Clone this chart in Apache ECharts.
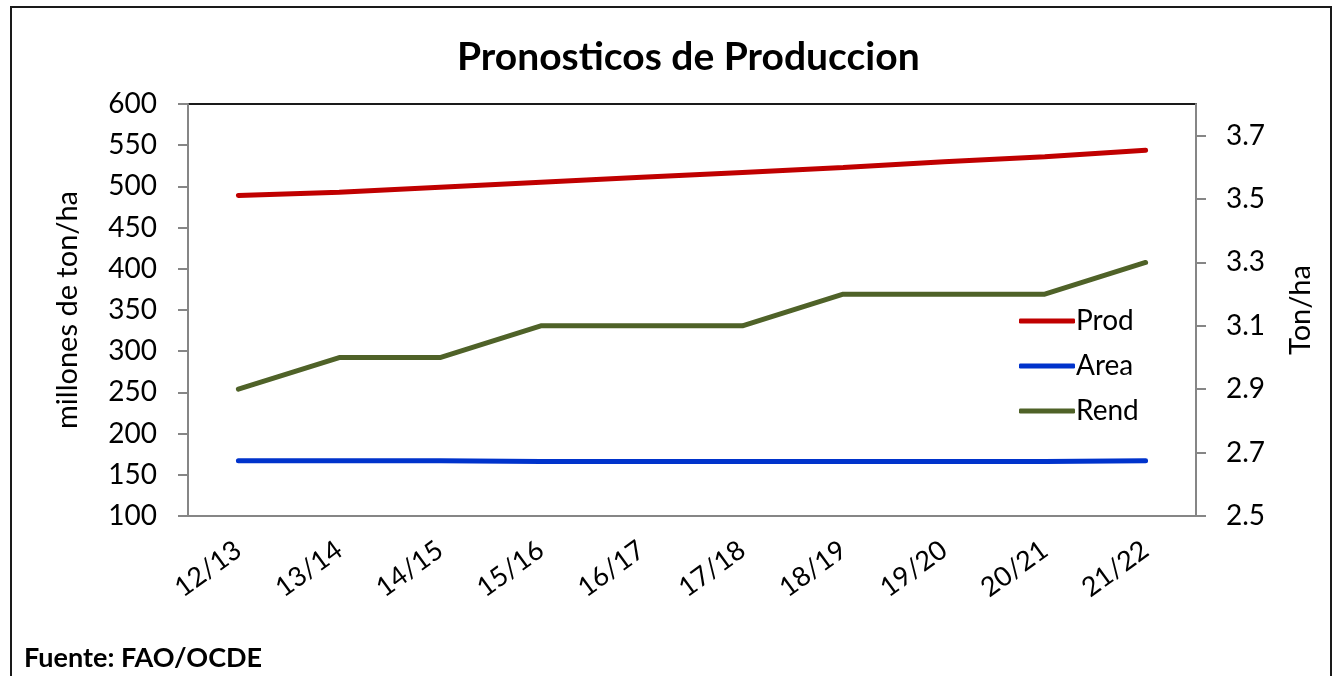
<!DOCTYPE html>
<html>
<head>
<meta charset="utf-8">
<script src="https://cdn.jsdelivr.net/npm/echarts@6/dist/echarts.min.js"></script>
<style>
  html, body { margin: 0; padding: 0; background: #fff; }
  #chart { width: 1340px; height: 676px; }
</style>
</head>
<body>
<div id="chart"></div>
<script>
// campañas
const seasons = ['12/13', '13/14', '14/15', '15/16', '16/17', '17/18', '18/19', '19/20', '20/21', '21/22']
// millones de ton
const prod = [489, 493, 499, 505, 511, 517, 523, 530, 536, 544]
// millones de ha
const area = [167, 167, 167, 166, 166, 166, 166, 166, 166, 167]
// ton/ha (eje derecho)
const rend = [2.9, 3.0, 3.0, 3.1, 3.1, 3.1, 3.2, 3.2, 3.2, 3.3]
const rightTicks = [2.5, 2.7, 2.9, 3.1, 3.3, 3.5, 3.7]

const font = 'Lato, "Open Sans", sans-serif'
const axisGray = '#868686'

const chart = echarts.init(document.getElementById('chart'), null, { renderer: 'canvas' })

chart.setOption({
  animation: false,
  backgroundColor: '#fff',
  title: [
    {
      text: 'Pronosticos de Produccion',
      left: 452,
      top: 33,
      textStyle: { fontFamily: font, fontSize: 39, fontWeight: 'bold', color: '#000' }
    },
    {
      text: 'Fuente: FAO/OCDE',
      left: 19,
      top: 640,
      textStyle: { fontFamily: font, fontSize: 27, fontWeight: 'bold', color: '#000' }
    }
  ],
  graphic: [{
    type: 'rect',
    shape: { x: 11, y: 7, width: 1320, height: 720 },
    style: { fill: null, stroke: '#1a1a1a', lineWidth: 2 },
    silent: true
  }],
  grid: {
    left: 188,
    right: 144,
    top: 104,
    bottom: 160,
    show: true,
    borderColor: '#1a1a1a',
    borderWidth: 2,
    backgroundColor: 'transparent'
  },
  legend: {
    orient: 'vertical',
    left: 1014,
    top: 302,
    icon: 'roundRect',
    itemWidth: 56,
    itemHeight: 5,
    itemGap: 17,
    textStyle: { fontFamily: font, fontSize: 28, color: '#000', padding: [0, 0, 0, -4] },
    data: ['Prod', 'Area', 'Rend']
  },
  xAxis: {
    type: 'category',
    data: seasons,
    axisLine: { lineStyle: { color: axisGray, width: 2 } },
    axisTick: { length: 10, lineStyle: { color: axisGray, width: 2 } },
    axisLabel: { rotate: 36, margin: 31, fontFamily: font, fontSize: 27, color: '#000' },
    splitLine: { show: false }
  },
  yAxis: [
    {
      type: 'value',
      min: 100,
      max: 600,
      interval: 50,
      name: 'millones de ton/ha',
      nameLocation: 'middle',
      nameRotate: 90,
      nameGap: 106,
      nameTextStyle: { fontFamily: font, fontSize: 29, color: '#000' },
      axisLine: { show: true, lineStyle: { color: axisGray, width: 2 } },
      axisTick: { show: true, length: 10, lineStyle: { color: axisGray, width: 2 } },
      axisLabel: { margin: 31, fontFamily: font, fontSize: 28, color: '#000' },
      splitLine: { show: false }
    },
    {
      type: 'value',
      position: 'right',
      min: 2.5,
      max: 3.8,
      interval: 0.1,
      name: 'Ton/ha',
      nameLocation: 'middle',
      nameRotate: 90,
      nameGap: 90,
      nameTextStyle: { fontFamily: font, fontSize: 29, color: '#000' },
      axisLine: { show: true, lineStyle: { color: axisGray, width: 2 } },
      axisTick: { show: true, length: 10, customValues: rightTicks, lineStyle: { color: axisGray, width: 2 } },
      axisLabel: {
        margin: 30,
        fontFamily: font,
        fontSize: 28,
        color: '#000',
        customValues: rightTicks,
        formatter: v => v.toFixed(1)
      },
      splitLine: { show: false }
    }
  ],
  series: [
    {
      name: 'Prod',
      type: 'line',
      data: prod,
      symbol: 'none',
      lineStyle: { color: '#C00000', width: 5, cap: 'round' },
      itemStyle: { color: '#C00000' }
    },
    {
      name: 'Area',
      type: 'line',
      data: area,
      symbol: 'none',
      lineStyle: { color: '#0033CC', width: 5, cap: 'round' },
      itemStyle: { color: '#0033CC' }
    },
    {
      name: 'Rend',
      type: 'line',
      yAxisIndex: 1,
      data: rend,
      symbol: 'none',
      lineStyle: { color: '#4F6228', width: 5, cap: 'round' },
      itemStyle: { color: '#4F6228' }
    }
  ]
})
</script>
</body>
</html>
